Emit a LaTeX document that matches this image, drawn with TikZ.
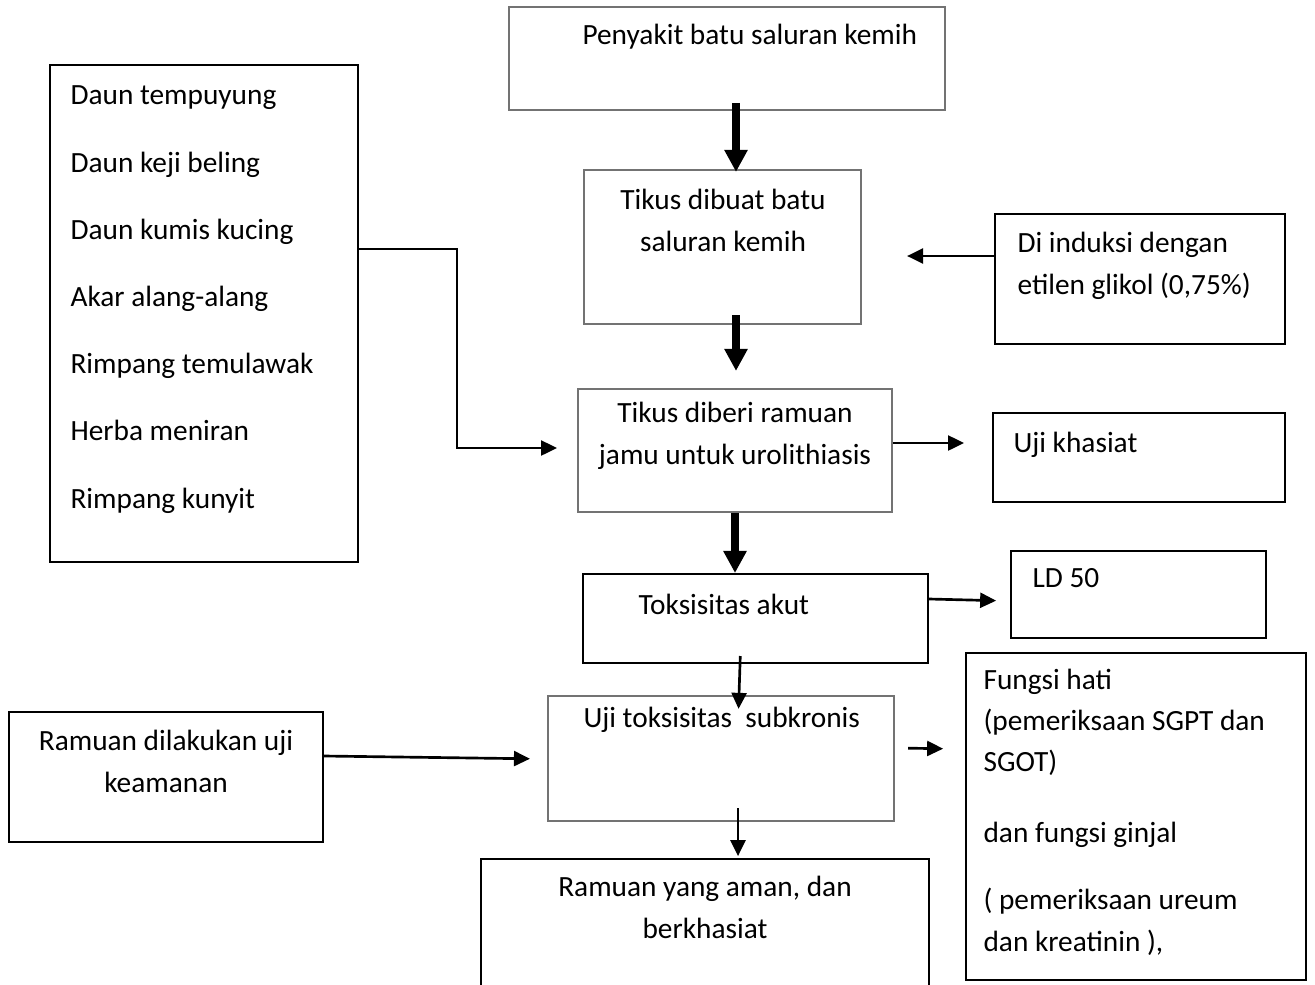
\documentclass[tikz,border=0pt]{standalone}
\usepackage{fontspec}
\setmainfont{Carlito}
\usetikzlibrary{arrows.meta,fit}
\colorlet{rimgray}{black!55}

\begin{document}
\begin{tikzpicture}[x=0.375pt,y=-0.375pt,font=\fontsize{11}{15.4}\selectfont,
  box/.style={draw,line width=0.75pt,inner sep=0pt},
  gbox/.style={box,draw=rimgray},
  txt/.style={inner sep=0pt,anchor=base west},
  arr/.style={-{Triangle[length=6pt,width=5.6pt]},line width=1pt},
  fatarr/.style={-{Triangle[length=8.3pt,width=8.3pt]},line width=3pt}]
\useasboundingbox (0,0) rectangle (1315,984);
\node[gbox,fit={(509,7) (945,110)}] (penyakit) {};
\node[box,fit={(50,65) (358,562)}] (bahan) {};
\node[gbox,fit={(584,170) (861,324)}] (dibuat) {};
\node[box,fit={(995,214) (1285,344)}] (induksi) {};
\node[gbox,fit={(578,389) (892,512)}] (diberi) {};
\node[box,fit={(993,413) (1285,502)}] (khasiat) {};
\node[box,fit={(583,574) (928,663)}] (akut) {};
\node[box,fit={(1011,551) (1266,638)}] (ld) {};
\node[gbox,fit={(548,696) (894,821)}] (subkronis) {};
\node[box,fit={(966,653) (1306,980)}] (hati) {};
\node[box,fit={(9,712) (323,842)}] (keamanan) {};
\node[box,fit={(481,859) (929,995)}] (aman) {};
% multi-line texts sit on the baseline of their last line
\node[txt] (tpenyakit) at (582,45) {Penyakit batu saluran kemih};
\node[txt,align=left,font=\fontsize{11}{25.2}\selectfont] (tbahan) at (70,508) {Daun tempuyung\\Daun keji beling\\Daun kumis kucing\\Akar alang-alang\\Rimpang temulawak\\Herba meniran\\Rimpang kunyit};
\node[txt,anchor=base,align=center] (tdibuat) at (723,251) {Tikus dibuat batu\\saluran kemih};
\node[txt,align=left] (tinduksi) at (1017,294) {Di induksi dengan\\etilen glikol (0,75\%)};
\node[txt,anchor=base,align=center] (tdiberi) at (735,464) {Tikus diberi ramuan\\jamu untuk urolithiasis};
\node[txt] (tkhasiat) at (1013,452) {Uji khasiat};
\node[txt] (takut) at (638,614) {Toksisitas akut};
\node[txt] (tld) at (1032,587) {LD 50};
\node[txt] (tsubkronis) at (583,727) {Uji toksisitas\ \ subkronis};
\node[txt,align=left] (thati) at (983,951) {Fungsi hati\\(pemeriksaan SGPT dan\\SGOT)\\[11.2pt]dan fungsi ginjal\\[10pt]( pemeriksaan ureum\\dan kreatinin ),};
\node[txt,anchor=base,align=center] (tkeamanan) at (166,792) {Ramuan dilakukan uji\\keamanan};
\node[txt,anchor=base,align=center] (taman) at (705,938) {Ramuan yang aman, dan\\berkhasiat};
\coordinate (knee) at (457,448);
\draw[fatarr,shorten <=-3pt,shorten >=-1.1pt] (penyakit.south -| 736,0) -- (dibuat.north -| 736,0);
\draw[fatarr,shorten <=-3.7pt,shorten >=6.4pt] (dibuat.south -| 736,0) -- (diberi.north -| 736,0);
\draw[fatarr] (diberi.south -| 735,0) -- (akut.north -| 735,0);
\draw[arr,shorten >=7.5pt] (bahan.east |- 0,249) -| (knee) -- (diberi.west |- knee);
\draw[arr,shorten >=16.9pt] (induksi.west |- 0,256) -- (dibuat.east |- 0,256);
\draw[arr,shorten >=10.5pt] (diberi.east |- 0,443) -- (khasiat.west |- 0,443);
\draw[arr,shorten >=5.2pt] (akut.east |- 0,599) -- (ld.west |- 0,601);
\draw[arr,shorten <=-3pt,shorten >=-5.2pt] (akut.south -| 740,0) -- (subkronis.north -| 739,0);
\draw[arr,shorten <=4.9pt,shorten >=8.2pt] (subkronis.east |- 0,748) -- (hati.west |- 0,749);
\draw[arr,shorten >=6.4pt] (keamanan.east |- 0,756) -- (subkronis.west |- 0,759);
\draw[arr,shorten <=-5.2pt,shorten >=0.7pt] (subkronis.south -| 738,0) -- (aman.north -| 738,0);
\end{tikzpicture}
\end{document}
